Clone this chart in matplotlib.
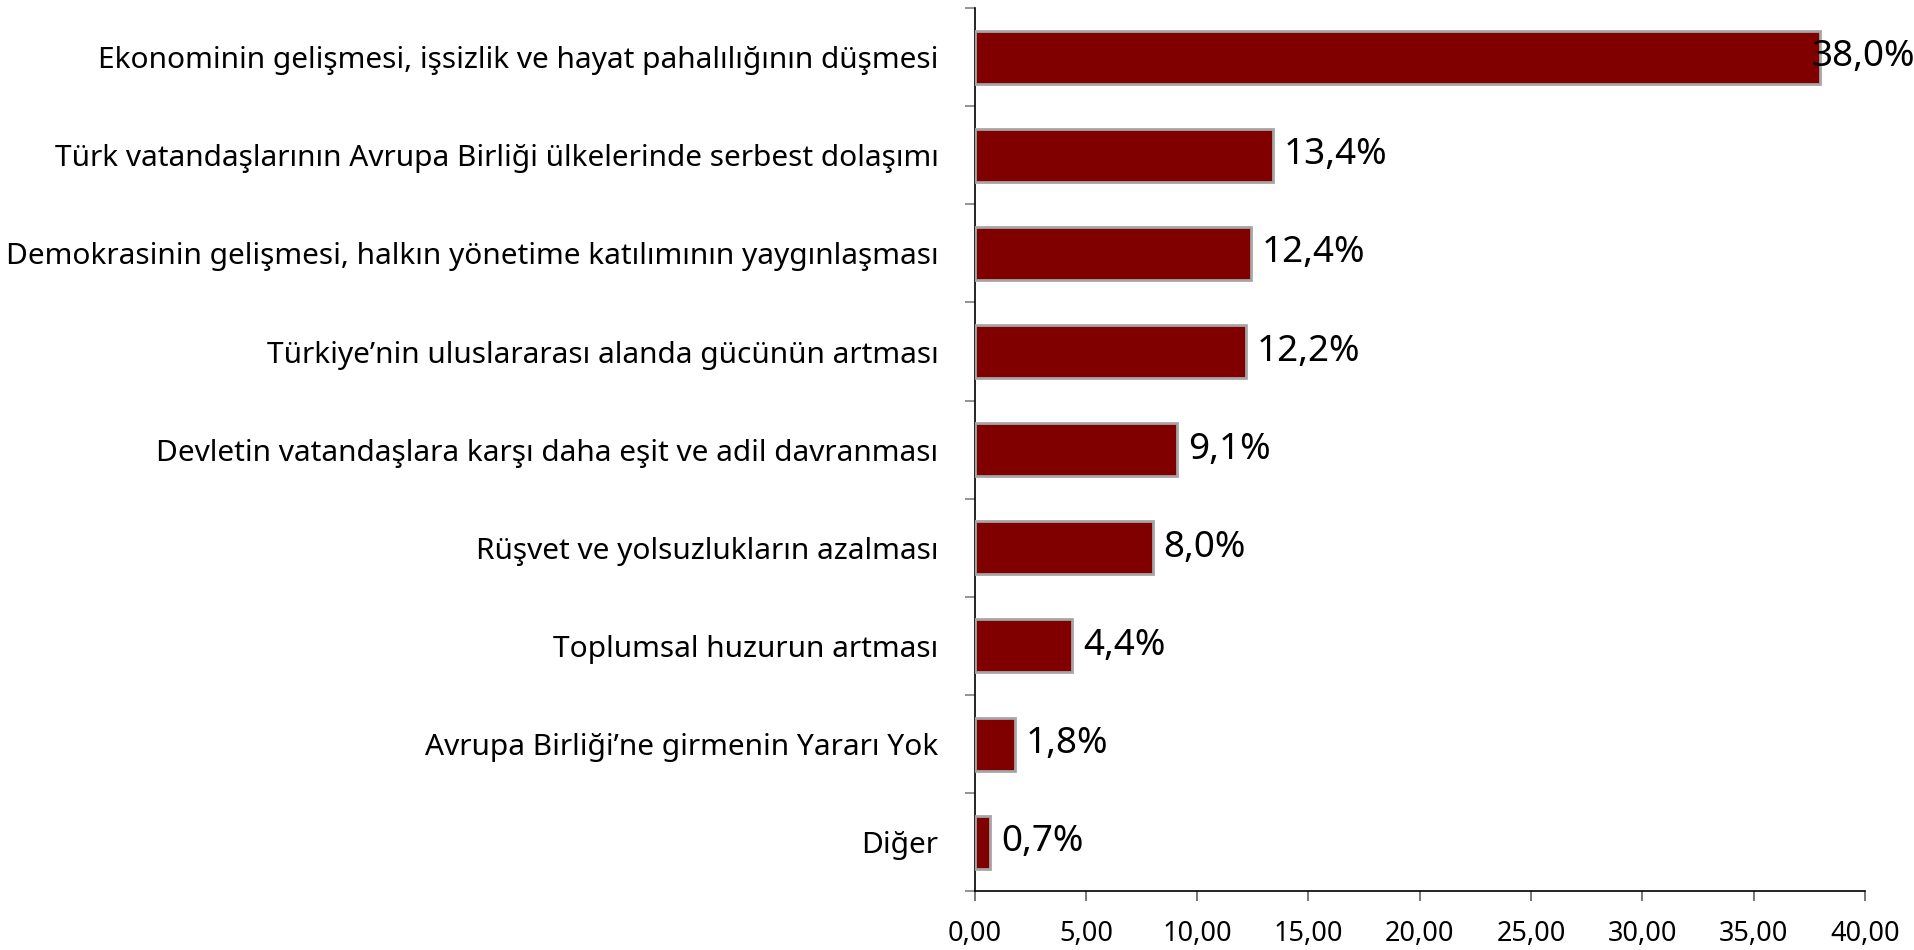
import matplotlib
matplotlib.use('Agg')
import matplotlib.pyplot as plt
import numpy as np

# data, listed top to bottom as in the chart
categories = [
    "Ekonominin gelişmesi, işsizlik ve hayat pahalılığının düşmesi",
    "Türk vatandaşlarının Avrupa Birliği ülkelerinde serbest dolaşımı",
    "Demokrasinin gelişmesi, halkın yönetime katılımının yaygınlaşması",
    "Türkiye\u2019nin uluslararası alanda gücünün artması",
    "Devletin vatandaşlara karşı daha eşit ve adil davranması",
    "Rüşvet ve yolsuzlukların azalması",
    "Toplumsal huzurun artması",
    "Avrupa Birliği\u2019ne girmenin Yararı Yok",
    "Diğer",
]
values = [38.0, 13.4, 12.4, 12.2, 9.1, 8.0, 4.4, 1.8, 0.7]
value_labels = ["38,0%", "13,4%", "12,4%", "12,2%", "9,1%", "8,0%", "4,4%", "1,8%", "0,7%"]
x_ticks = [0, 5, 10, 15, 20, 25, 30, 35, 40]
x_tick_labels = ["0,00", "5,00", "10,00", "15,00", "20,00", "25,00", "30,00", "35,00", "40,00"]

plt.rcParams['font.family'] = ['Noto Sans', 'DejaVu Sans']

fig = plt.figure(figsize=(19.15, 9.5), dpi=100)
ax = fig.add_axes([0.5089, 0.0618, 0.9739 - 0.5089, 0.9915 - 0.0618])

n = len(categories)
y = np.arange(n)[::-1]  # first category on top
ax.barh(y, values, height=0.54, color='#800000', edgecolor='#a6a6a6', linewidth=2, zorder=3)

for i, (v, lab) in enumerate(zip(values, value_labels)):
    # Excel pulls the label back when it would run off the chart
    off = -9 if v > 35 else 11
    ax.annotate(lab, xy=(v, y[i]), xytext=(off * 0.72, 0), textcoords='offset points',
                ha='left', va='center', fontsize=26.5, color='black',
                annotation_clip=False, zorder=4)

ax.set_xlim(0, 40)
ax.set_ylim(-0.5, n - 0.5)
ax.set_xticks(x_ticks)
ax.set_xticklabels(x_tick_labels, fontsize=19.5)
ax.set_yticks(y)
ax.set_yticklabels(categories, fontsize=21.5)
ax.set_yticks(np.arange(n + 1) - 0.5, minor=True)

ax.tick_params(axis='y', which='major', length=0, pad=26)
ax.tick_params(axis='y', which='minor', length=7, width=1.2, color='#808080', direction='out')
ax.tick_params(axis='x', which='major', length=7, width=1.2, color='#606060', direction='out', pad=14)

for s in ['top', 'right']:
    ax.spines[s].set_visible(False)
ax.spines['left'].set_color('black')
ax.spines['bottom'].set_color('black')
ax.spines['left'].set_linewidth(1.2)
ax.spines['bottom'].set_linewidth(1.2)

fig.savefig('out.png', dpi=100)
